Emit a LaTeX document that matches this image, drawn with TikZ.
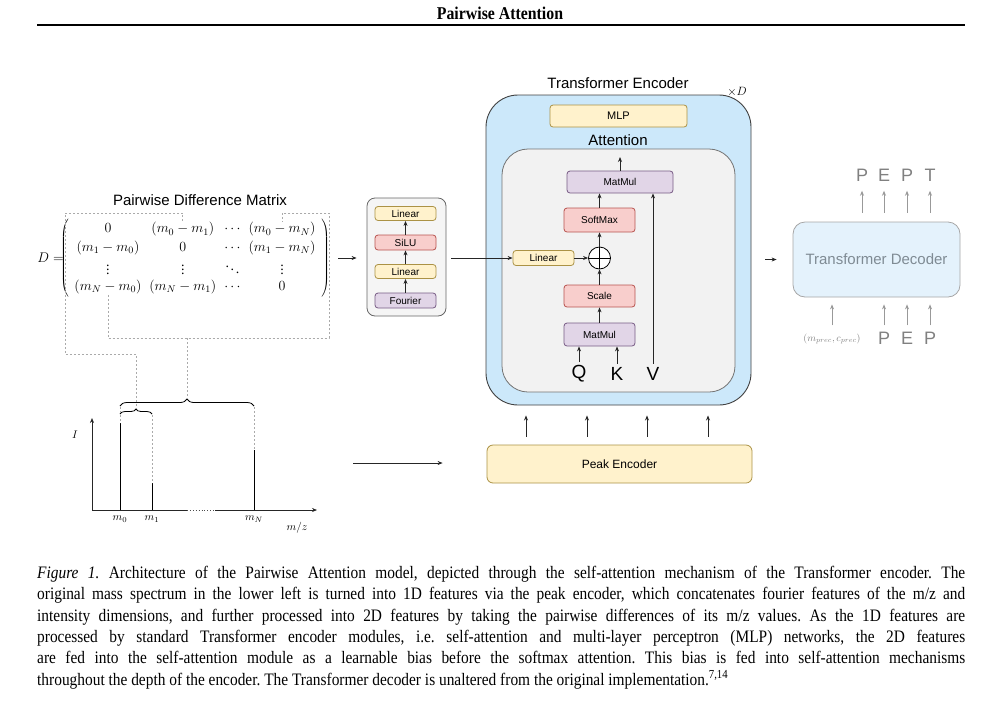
\documentclass[tikz,border=0pt]{standalone}
\usepackage{fix-cm}
\usepackage{amsmath}
\usepackage{amssymb}
\usepackage{fontspec}
\setmainfont{Liberation Serif}
\setsansfont{Liberation Sans}
\newfontfamily\capfont[FakeStretch=0.88]{Liberation Serif}
\usepackage{xcolor}
\usetikzlibrary{arrows.meta,matrix,decorations.pathreplacing,positioning,calc}

\definecolor{yelfill}{HTML}{FFF2CC}
\definecolor{yeldraw}{HTML}{D6B656}
\definecolor{redfill}{HTML}{F8CECC}
\definecolor{reddraw}{HTML}{B85450}
\definecolor{purfill}{HTML}{E1D5E7}
\definecolor{purdraw}{HTML}{9673A6}
\definecolor{encfill}{HTML}{CCE8FA}
\definecolor{attfill}{HTML}{F2F2F2}
\definecolor{decfill}{HTML}{E4F2FC}
\definecolor{dashgray}{HTML}{AAAAAA}
\definecolor{fadegray}{HTML}{7F8B94}

\tikzset{
  arr/.style={-{Stealth[length=5pt,width=4pt]}, line width=0.8pt, draw=black!85},
  fadearr/.style={-{Stealth[length=5pt,width=4pt]}, line width=0.8pt, draw=black!40},
  box/.style={draw, rounded corners=3pt, inner sep=0pt, line width=0.8pt,
    font=\sffamily\fontsize{10}{12}\selectfont},
  linbox/.style={box, fill=yelfill, draw=yeldraw!80!black},
  actbox/.style={box, fill=redfill, draw=reddraw},
  mulbox/.style={box, fill=purfill, draw=purdraw!80!black},
  dashln/.style={draw=dashgray, dash pattern=on 2pt off 2pt, line width=0.7pt},
  sflab/.style={font=\sffamily\fontsize{15}{18}\selectfont},
  outlab/.style={font=\sffamily\fontsize{18}{20}\selectfont, text=black!50},
}

\begin{document}
\begin{tikzpicture}[x=1pt,y=-1pt]
\useasboundingbox (0,0) rectangle (1000,718);

% running head
\node (head) [font=\capfont\bfseries\fontsize{18}{20}\selectfont] at (500,13) {Pairwise Attention};
\draw[line width=1.6pt] (37,25) -- (965,25);

% pairwise difference matrix
\node (mtitle) [sflab] at (200,200) {Pairwise Difference Matrix};
\matrix (M) [matrix of math nodes, left delimiter=(, right delimiter=),
  column sep=6pt, row sep=2.5pt,
  nodes={inner sep=1pt, font=\fontsize{14}{16}\selectfont}] at (195,258) {
  0 & (m_0-m_1) & \cdots & (m_0-m_N) \\
  (m_1-m_0) & 0 & \cdots & (m_1-m_N) \\
  \vdots & \vdots & \ddots & \vdots \\
  (m_N-m_0) & (m_N-m_1) & \cdots & 0 \\
};
\node (Dlab) [font=\fontsize{14}{16}\selectfont, anchor=east, inner sep=1pt] at (65,258) {$D=$};
\coordinate (mout) at (338,258);

% fourier features block
\node (fblk) [draw=black!60, fill=black!4, rounded corners=8pt, line width=0.8pt,
  minimum width=79pt, minimum height=118pt] at (406.5,257) {};
\node (four) [mulbox, minimum width=61pt, minimum height=15pt] at (405.5,300.5) {Fourier};
\node (lin1) [linbox, minimum width=61pt, minimum height=14pt] at (405.5,271.5) {Linear};
\node (silu) [actbox, minimum width=61pt, minimum height=15pt] at (405.5,242.5) {SiLU};
\node (lin2) [linbox, minimum width=61pt, minimum height=14pt] at (405.5,213.5) {Linear};
\draw[arr] (four) -- (lin1);
\draw[arr] (lin1) -- (silu);
\draw[arr] (silu) -- (lin2);
\draw[arr, shorten >=10pt] (mout) -- (mout -| fblk.west);

% transformer encoder
\node (enc) [draw=black!75, fill=encfill, rounded corners=32pt, line width=0.9pt,
  minimum width=265pt, minimum height=310pt] at (618.5,250) {};
\node (enctitle) [sflab] at (618,83) {Transformer Encoder};
\node (times) [font=\fontsize{12}{14}\selectfont] at (737,92) {$\times D$};
\node (mlp) [linbox, minimum width=137pt, minimum height=22pt,
  font=\sffamily\fontsize{11}{13}\selectfont] at (618.5,116) {MLP};
\node (attlab) [sflab] at (618,140) {Attention};
\node (att) [draw=black!55, fill=attfill, rounded corners=26pt, line width=0.8pt,
  minimum width=233pt, minimum height=243pt] at (618.5,270.5) {};

% attention
\node (mmtop) [mulbox, minimum width=106pt, minimum height=22pt] at (620,182) {MatMul};
\node (soft) [actbox, minimum width=71pt, minimum height=24pt] at (599.5,220) {SoftMax};
\node (plus) [draw, circle, fill=white, line width=0.8pt, minimum size=22pt, inner sep=0pt] at (599.5,258) {};
\draw[line width=0.8pt] (plus.north) -- (plus.south) (plus.west) -- (plus.east);
\node (linatt) [linbox, minimum width=61pt, minimum height=15pt] at (543.5,258) {Linear};
\node (scale) [actbox, minimum width=71pt, minimum height=22pt] at (599.5,296) {Scale};
\node (mmbot) [mulbox, minimum width=71pt, minimum height=23pt] at (599.5,334.5) {MatMul};
\node (Q) [font=\sffamily\fontsize{19}{22}\selectfont] at (579,374) {Q};
\node (K) [font=\sffamily\fontsize{19}{22}\selectfont] at (617,374) {K};
\node (V) [font=\sffamily\fontsize{19}{22}\selectfont] at (653,374) {V};
\coordinate (attout) at (620,157);

\draw[arr] (mmbot) -- (scale);
\draw[arr] (scale) -- (plus);
\draw[arr] (plus) -- (soft);
\draw[arr] (soft) -- (soft |- mmtop.south);
\draw[arr] (mmtop) -- (attout);
\draw[arr] (linatt) -- (plus);
\draw[arr] (Q) -- (Q |- mmbot.south);
\draw[arr] (K) -- (K |- mmbot.south);
\draw[arr] (V) -- (V |- mmtop.south);
\draw[arr, shorten <=5pt] (fblk.east |- linatt.west) -- (linatt.west);

% peak encoder
\node (peak) [linbox, rounded corners=6pt, minimum width=265pt, minimum height=38pt,
  font=\sffamily\fontsize{12}{14}\selectfont] at (619.5,464) {Peak Encoder};
\foreach \px in {526,587,647,708}
  \draw[arr, shorten <=8pt, shorten >=10pt] (\px,0 |- peak.north) -- (\px,0 |- enc.south);

% transformer decoder
\node (dec) [draw=black!35, fill=decfill, rounded corners=12pt, line width=0.8pt,
  minimum width=167pt, minimum height=75pt, text=fadegray,
  font=\sffamily\fontsize{15}{18}\selectfont] at (876.5,259.5) {Transformer Decoder};
\draw[arr, shorten <=14pt, shorten >=16pt] (dec.west -| enc.east) -- (dec.west);
\foreach \nm/\px/\tk in {o1/862/P, o2/884/E, o3/907/P, o4/930/T} {
  \node (\nm) [outlab] at (\px,175) {\tk};
  \draw[fadearr, shorten <=9pt, shorten >=6pt] (\px,0 |- dec.north) -- (\nm);
}
\foreach \nm/\px/\tk in {i2/884/P, i3/907/E, i4/930/P} {
  \node (\nm) [outlab] at (\px,338) {\tk};
  \draw[fadearr, shorten <=3pt, shorten >=7pt] (\nm) -- (\px,0 |- dec.south);
}
\node (i1) [font=\fontsize{10}{12}\selectfont, text=black!50] at (832,339) {$(m_{prec},c_{prec})$};
\draw[fadearr, shorten <=5pt, shorten >=7pt] (i1) -- (i1 |- dec.south);

% mass spectrum
\coordinate (org) at (92,510);
\coordinate (specout) at (353,463);
\draw[arr, line width=0.7pt] (org) -- (92,418);
\draw[line width=0.7pt, draw=black!85] (org) -- (187,510);
\draw[line width=0.9pt, draw=black!70, dotted] (187,510) -- (215,510);
\draw[arr, line width=0.7pt] (215,510) -- (317,510);
\draw[line width=0.9pt] (120,510) -- (120,423);
\draw[line width=0.9pt] (152,510) -- (152,483);
\draw[line width=0.9pt] (254,510) -- (254,450);
\node (Ilab) [font=\fontsize{11}{13}\selectfont] at (75,435) {$I$};
\node (m0) [font=\fontsize{11}{13}\selectfont] at (120,519) {$m_0$};
\node (m1) [font=\fontsize{11}{13}\selectfont] at (152,519) {$m_1$};
\node (mN) [font=\fontsize{11}{13}\selectfont] at (254,519) {$m_N$};
\node (mz) [font=\fontsize{11}{13}\selectfont] at (297,528) {$m/z$};
\draw[arr, shorten >=44pt] (specout) -- (specout -| peak.west);

% braces
\draw[decorate, decoration={brace, amplitude=7pt}, line width=0.8pt] (120,406) -- (254,406);
\draw[decorate, decoration={brace, amplitude=5pt}, line width=0.8pt] (120,414) -- (152,414);
\coordinate (bigtip) at (187,398);
\coordinate (smalltip) at (136,408);
\draw[dashln] (120,407) -- (120,423);
\draw[dashln] (152,415) -- (152,483);
\draw[dashln] (254,407) -- (254,450);

% dashed links matrix -> braces
\draw[dashln] (M-1-2.north) -- (M-1-2.north |- 0,213) -- (65,213) -- (65,354)
  -- (smalltip |- 0,354) -- (smalltip);
\draw[dashln] (M-4-1.south) -- (M-4-1.south |- 0,338) -- (329,338) -- (329,213)
  -- (M-1-4.north |- 0,213) -- (M-1-4.north);
\draw[dashln] (bigtip |- 0,338) -- (bigtip);

% caption
\node (cap) [anchor=north west, text width=928pt, align=justify, inner sep=0pt,
  font=\capfont\fontsize{17.5}{21.3}\selectfont] at (37,566) {\hyphenpenalty=10000\frenchspacing
  \textit{Figure 1.} Architecture of the Pairwise Attention model, depicted through the self-attention mechanism of the Transformer encoder. The\linebreak
  original mass spectrum in the lower left is turned into 1D features via the peak encoder, which concatenates fourier features of the m/z and\linebreak
  intensity dimensions, and further processed into 2D features by taking the pairwise differences of its m/z values. As the 1D features are\linebreak
  processed by standard Transformer encoder modules, i.e. self-attention and multi-layer perceptron (MLP) networks, the 2D features\linebreak
  are fed into the self-attention module as a learnable bias before the softmax attention. This bias is fed into self-attention mechanisms\linebreak
  throughout the depth of the encoder. The Transformer decoder is unaltered from the original implementation.\textsuperscript{7,14}};
\end{tikzpicture}
\end{document}
